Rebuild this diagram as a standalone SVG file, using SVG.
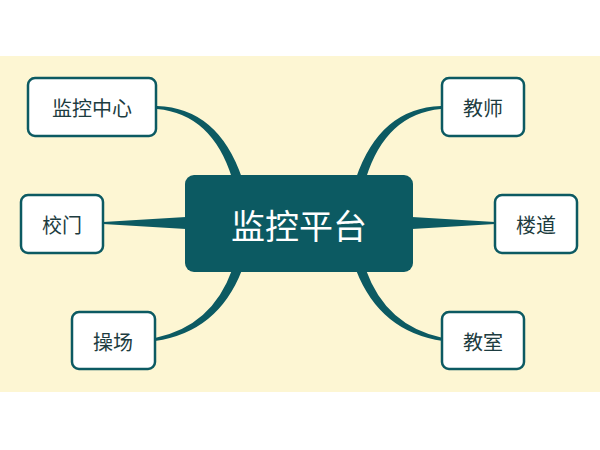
<svg xmlns="http://www.w3.org/2000/svg" width="600" height="450" viewBox="0 0 600 450">
<style>
.n{fill:#fff;stroke:#0c5a62;stroke-width:2.5}
.t{font-family:"Noto Sans CJK SC",sans-serif;font-size:20px;fill:#1d3c40;text-anchor:middle;dominant-baseline:central}
.c{fill:#0c5a62}
</style>
<rect width="600" height="450" fill="#fff"/>
<rect x="0" y="56" width="600" height="336" fill="#fdf6d3"/>
<g id="connectors" class="c">
<path d="M157,106 Q218,108 242,178 L232,178 Q212,114 157,109 Z"/>
<path d="M103,222 L186,217 L186,229 L103,224 Z"/>
<path d="M155,341 Q218,332 242,270 L232,270 Q212,326 155,338 Z"/>
<path d="M441,106 Q380,108 356,178 L366,178 Q386,114 441,109 Z"/>
<path d="M495,222 L412,217 L412,229 L495,224 Z"/>
<path d="M443,341 Q380,332 356,270 L366,270 Q386,326 443,338 Z"/>
</g>
<g id="center"><rect x="185" y="175" width="228" height="97" rx="9" fill="#0c5a62"/><text x="299" y="224" class="t" style="font-size:34px;fill:#fff">监控平台</text></g>
<g id="n1"><rect class="n" x="28" y="78" width="128" height="58" rx="7"/><text x="92" y="107" class="t">监控中心</text></g>
<g id="n2"><rect class="n" x="21" y="195" width="82" height="58" rx="7"/><text x="62" y="224" class="t">校门</text></g>
<g id="n3"><rect class="n" x="72" y="312" width="83" height="57" rx="7"/><text x="113" y="341" class="t">操场</text></g>
<g id="n4"><rect class="n" x="442" y="78" width="82" height="58" rx="7"/><text x="483" y="107" class="t">教师</text></g>
<g id="n5"><rect class="n" x="495" y="195" width="82" height="58" rx="7"/><text x="536" y="224" class="t">楼道</text></g>
<g id="n6"><rect class="n" x="442" y="312" width="82" height="57" rx="7"/><text x="483" y="341" class="t">教室</text></g>
</svg>
